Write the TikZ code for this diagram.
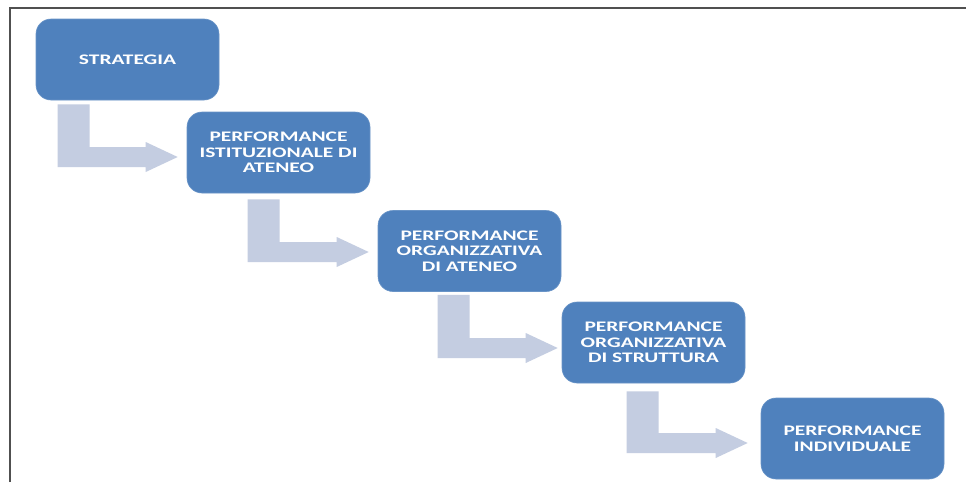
\documentclass[tikz,border=0pt]{standalone}
\usepackage{fontspec}
\usetikzlibrary{calc}
\newfontfamily\boxfont[FakeStretch=1.47]{Carlito}
\definecolor{boxblue}{HTML}{4F81BD}
\definecolor{arrowgray}{HTML}{C4CDE1}
\definecolor{framegray}{HTML}{505050}
\tikzset{
  stagebox/.style={fill=boxblue, draw=boxblue!85!white, line width=0.6pt,
    rounded corners=15pt, minimum width=183pt, minimum height=81pt,
    inner sep=0pt, align=center, text=white,
    font=\boxfont\bfseries\fontsize{14.6pt}{15.6pt}\selectfont},
  bendfill/.style={fill=arrowgray, draw=none},
  framestyle/.style={draw=framegray, line width=1.5pt}
}
% #1 from node, #2 to node, #3 stem dx, #4 stem dy, #5 tip dx, #6 tip dy
\newcommand\bendarrow[6]{%
  \coordinate (s#1) at ($(#1.south west)+(#3,#4)$);
  \coordinate (t#1) at ($(#2.west)+(#5,#6)$);
  \fill[bendfill] (s#1) -- ++(32,0) -- ($(s#1 |- t#1)+(32,-10)$)
    -- ($(t#1)+(-32,-10)$) -- ($(t#1)+(-32,-15)$) -- (t#1)
    -- ($(t#1)+(-32,15)$) -- ($(t#1)+(-32,10)$)
    -- ($(s#1 |- t#1)+(0,10)$) -- cycle;
}
\begin{document}
\begin{tikzpicture}[x=1pt,y=-1pt]
\useasboundingbox (0,0) rectangle (966,482);
\fill[white] (0,0) rectangle (966,482);
\coordinate (fc) at (10,8);
\coordinate (fr) at (966,8);
\coordinate (fb) at (10,482);
\draw[framestyle] (fb) -- (fc) -- (fr);
\node[stagebox] (b1) at (127.5,59.5) {STRATEGIA};
\node[stagebox] (b2) at (278.5,152.5) {PERFORMANCE\\ISTITUZIONALE DI\\ATENEO};
\node[stagebox] (b3) at (469.5,251) {PERFORMANCE\\ORGANIZZATIVA\\DI ATENEO};
\node[stagebox] (b4) at (653.5,342.5) {PERFORMANCE\\ORGANIZZATIVA\\DI STRUTTURA};
\node[stagebox] (b5) at (852.5,438.5) {PERFORMANCE\\INDIVIDUALE};
\bendarrow{b1}{b2}{22}{4}{-9}{4.5}
\bendarrow{b2}{b3}{61}{6}{-9}{1}
\bendarrow{b3}{b4}{60}{3}{-4}{5.5}
\bendarrow{b4}{b5}{65}{8}{-13}{4.5}
\end{tikzpicture}
\end{document}
